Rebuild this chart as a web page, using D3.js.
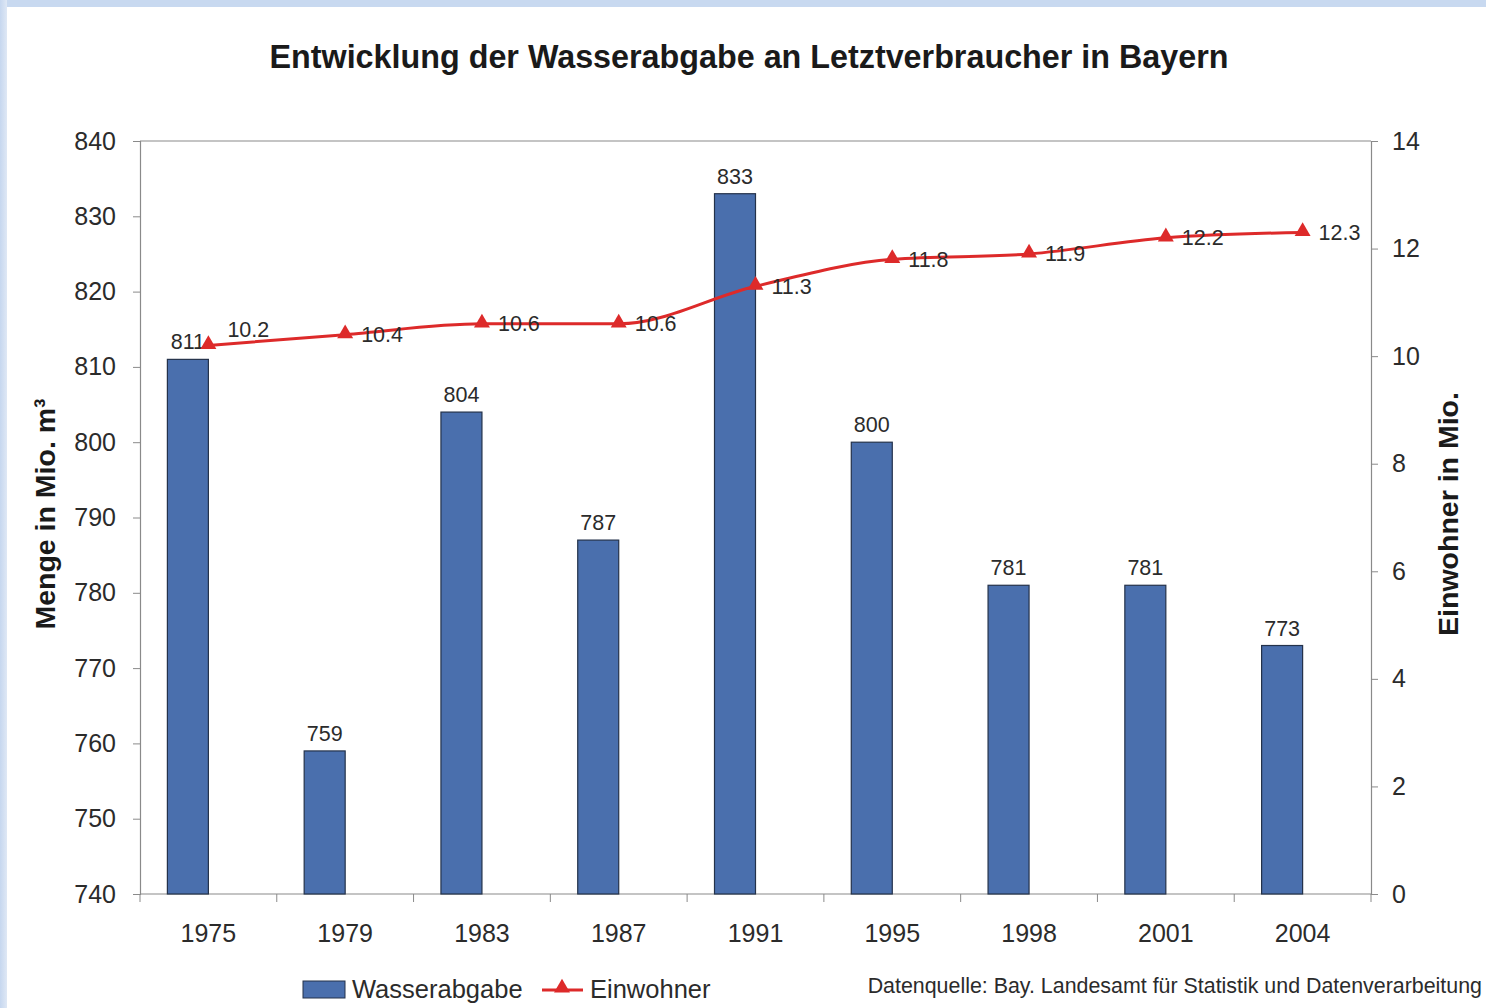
<!DOCTYPE html>
<html>
<head>
<meta charset="utf-8">
<script src="https://cdn.jsdelivr.net/npm/d3@7"></script>
<style>
  html, body { margin: 0; padding: 0; background: #c8d9f0; }
  svg { display: block; font-family: "Liberation Sans", Arial, sans-serif; }
</style>
</head>
<body>
<div id="chart"></div>
<script>
// chart data
const years = ["1975", "1979", "1983", "1987", "1991", "1995", "1998", "2001", "2004"];
const wasserabgabe = [811, 759, 804, 787, 833, 800, 781, 781, 773];
const einwohner = [10.2, 10.4, 10.6, 10.6, 11.3, 11.8, 11.9, 12.2, 12.3];
const leftTicks = [740, 750, 760, 770, 780, 790, 800, 810, 820, 830, 840];
const rightTicks = [0, 2, 4, 6, 8, 10, 12, 14];

const svgWidth = 1486;
const svgHeight = 1008;

const margin = { top: 141, right: 115, bottom: 114, left: 140 };
const width = svgWidth - margin.left - margin.right;
const height = svgHeight - margin.top - margin.bottom;

const barColor = "#4a6fad";
const lineColor = "#dd2a2a";
const textColor = "#2b2b2b";

const svg = d3.select("#chart")
  .append("svg")
  .attr("width", svgWidth)
  .attr("height", svgHeight);

// white panel with the blueish frame on top/left
svg.append("defs").append("linearGradient")
  .attr("id", "frameGrad")
  .attr("x1", "0").attr("x2", "1").attr("y1", "0").attr("y2", "0")
  .selectAll("stop")
  .data([["0%", "#c6d7ef"], ["100%", "#dfe8f5"]])
  .enter().append("stop")
  .attr("offset", d => d[0])
  .attr("stop-color", d => d[1]);

svg.append("rect")
  .attr("x", 0).attr("y", 0)
  .attr("width", 7).attr("height", svgHeight)
  .attr("fill", "url(#frameGrad)");

svg.append("rect")
  .attr("x", 7).attr("y", 7)
  .attr("width", svgWidth - 7).attr("height", svgHeight - 7)
  .attr("fill", "#ffffff");

const chartGroup = svg.append("g")
  .attr("transform", `translate(${margin.left}, ${margin.top})`);

// scales
const xBand = d3.scaleBand()
  .domain(years)
  .range([0, width])
  .padding(0);

const yLeft = d3.scaleLinear()
  .domain([740, 840])
  .range([height, 0]);

const yRight = d3.scaleLinear()
  .domain([0, 14])
  .range([height, 0]);

const center = d => xBand(d) + xBand.bandwidth() / 2;
const barWidth = 41;

// axes
const leftAxis = d3.axisLeft(yLeft).tickValues(leftTicks).tickSize(7).tickPadding(17);
const rightAxis = d3.axisRight(yRight).tickValues(rightTicks).tickSize(7).tickPadding(14);

const styleAxis = g => {
  g.select(".domain").attr("stroke", "#8a8a8a").attr("stroke-width", 1.2);
  g.selectAll(".tick line").attr("stroke", "#8a8a8a");
  g.selectAll(".tick text")
    .attr("fill", textColor)
    .style("font-size", "25px");
};

chartGroup.append("g")
  .call(leftAxis)
  .call(styleAxis);

chartGroup.append("g")
  .attr("transform", `translate(${width}, 0)`)
  .call(rightAxis)
  .call(styleAxis);

// top border of plot
chartGroup.append("line")
  .attr("x1", 0).attr("x2", width)
  .attr("y1", 0).attr("y2", 0)
  .attr("stroke", "#8a8a8a")
  .attr("stroke-width", 1.2);

// bottom axis: ticks at category boundaries, labels at centers
const xAxisG = chartGroup.append("g")
  .attr("transform", `translate(0, ${height})`);

xAxisG.append("line")
  .attr("x1", 0).attr("x2", width)
  .attr("stroke", "#8a8a8a")
  .attr("stroke-width", 1.2);

xAxisG.selectAll(".xtick")
  .data(years.concat(["end"]))
  .enter()
  .append("line")
  .attr("class", "xtick")
  .attr("x1", (d, i) => i * xBand.bandwidth())
  .attr("x2", (d, i) => i * xBand.bandwidth())
  .attr("y1", 0)
  .attr("y2", 8)
  .attr("stroke", "#8a8a8a");

xAxisG.selectAll(".xlabel")
  .data(years)
  .enter()
  .append("text")
  .attr("class", "xlabel")
  .attr("x", d => center(d))
  .attr("y", 48)
  .attr("text-anchor", "middle")
  .attr("fill", textColor)
  .style("font-size", "25px")
  .text(d => d);

// bars
chartGroup.selectAll(".bar")
  .data(wasserabgabe)
  .enter()
  .append("rect")
  .attr("class", "bar")
  .attr("x", (d, i) => center(years[i]) - barWidth)
  .attr("y", d => yLeft(d))
  .attr("width", barWidth)
  .attr("height", d => height - yLeft(d))
  .attr("fill", barColor)
  .attr("stroke", "#24324a")
  .attr("stroke-width", 1.2);

chartGroup.selectAll(".barLabel")
  .data(wasserabgabe)
  .enter()
  .append("text")
  .attr("class", "barLabel")
  .attr("x", (d, i) => center(years[i]) - barWidth / 2)
  .attr("y", d => yLeft(d) - 10)
  .attr("text-anchor", "middle")
  .attr("fill", textColor)
  .style("font-size", "21.5px")
  .text(d => d);

// line for Einwohner
const line = d3.line()
  .x((d, i) => center(years[i]))
  .y(d => yRight(d))
  .curve(d3.curveMonotoneX);

chartGroup.append("path")
  .datum(einwohner)
  .attr("d", line)
  .attr("fill", "none")
  .attr("stroke", lineColor)
  .attr("stroke-width", 3);

const triangle = d3.symbol().type(d3.symbolTriangle).size(110);

chartGroup.selectAll(".marker")
  .data(einwohner)
  .enter()
  .append("path")
  .attr("class", "marker")
  .attr("d", triangle)
  .attr("transform", (d, i) => `translate(${center(years[i])}, ${yRight(d) - 1})`)
  .attr("fill", lineColor);

chartGroup.selectAll(".lineLabel")
  .data(einwohner)
  .enter()
  .append("text")
  .attr("class", "lineLabel")
  .attr("x", (d, i) => center(years[i]) + (i === 0 ? 19 : 16))
  .attr("y", (d, i) => yRight(d) + (i === 0 ? -16 : 0))
  .attr("dy", "0.35em")
  .attr("fill", textColor)
  .style("font-size", "21.5px")
  .text(d => d.toFixed(1));

// title
svg.append("text")
  .attr("x", 749)
  .attr("y", 68)
  .attr("text-anchor", "middle")
  .attr("fill", "#1a1a1a")
  .style("font-size", "32.3px")
  .style("font-weight", "bold")
  .text("Entwicklung der Wasserabgabe an Letztverbraucher in Bayern");

// axis titles
svg.append("text")
  .attr("transform", "translate(55, 514) rotate(-90)")
  .attr("text-anchor", "middle")
  .attr("fill", "#1a1a1a")
  .style("font-size", "28.5px")
  .style("font-weight", "bold")
  .text("Menge in Mio. m³");

svg.append("text")
  .attr("transform", "translate(1458, 514) rotate(-90)")
  .attr("text-anchor", "middle")
  .attr("fill", "#1a1a1a")
  .style("font-size", "28.5px")
  .style("font-weight", "bold")
  .text("Einwohner in Mio.");

// legend
const legend = svg.append("g");

legend.append("rect")
  .attr("x", 303).attr("y", 981)
  .attr("width", 42).attr("height", 17)
  .attr("fill", barColor)
  .attr("stroke", "#24324a")
  .attr("stroke-width", 1);

legend.append("text")
  .attr("x", 352).attr("y", 998)
  .attr("fill", textColor)
  .style("font-size", "25.5px")
  .text("Wasserabgabe");

legend.append("line")
  .attr("x1", 542).attr("x2", 583)
  .attr("y1", 990).attr("y2", 990)
  .attr("stroke", lineColor)
  .attr("stroke-width", 3);

legend.append("path")
  .attr("d", triangle)
  .attr("transform", "translate(562, 988)")
  .attr("fill", lineColor);

legend.append("text")
  .attr("x", 590).attr("y", 998)
  .attr("fill", textColor)
  .style("font-size", "25.5px")
  .text("Einwohner");

svg.append("text")
  .attr("x", 1482).attr("y", 993)
  .attr("text-anchor", "end")
  .attr("fill", textColor)
  .style("font-size", "21.4px")
  .text("Datenquelle: Bay. Landesamt für Statistik und Datenverarbeitung");
</script>
</body>
</html>
